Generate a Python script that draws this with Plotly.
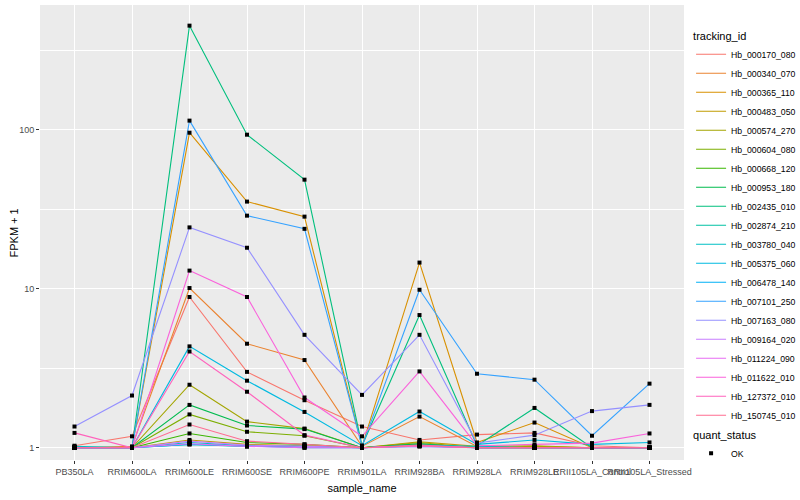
import plotly.graph_objects as go

# ---- data (values are FPKM + 1) ----
samples = ["PB350LA", "RRIM600LA", "RRIM600LE", "RRIM600SE", "RRIM600PE", "RRIM901LA",
           "RRIM928BA", "RRIM928LA", "RRIM928LE", "RRII105LA_Control", "RRII105LA_Stressed"]

tracking_ids = ["Hb_000170_080", "Hb_000340_070", "Hb_000365_110", "Hb_000483_050",
                "Hb_000574_270", "Hb_000604_080", "Hb_000668_120", "Hb_000953_180",
                "Hb_002435_010", "Hb_002874_210", "Hb_003780_040", "Hb_005375_060",
                "Hb_006478_140", "Hb_007101_250", "Hb_007163_080", "Hb_009164_020",
                "Hb_011224_090", "Hb_011622_010", "Hb_127372_010", "Hb_150745_010"]

hb_000170_080 = [1.03, 1.18, 8.87, 3.00, 1.99, 1.36, 1.12, 1.21, 1.24, 1.03, 1.00]
hb_000340_070 = [1.00, 1.02, 10.1, 4.51, 3.56, 1.02, 1.57, 1.02, 1.00, 1.00, 1.00]
hb_000365_110 = [1.00, 1.00, 95.7, 35.3, 28.4, 1.02, 14.6, 1.08, 1.44, 1.00, 1.00]
hb_000483_050 = [1.00, 1.00, 1.12, 1.05, 1.03, 1.00, 1.09, 1.02, 1.03, 1.00, 1.00]
hb_000574_270 = [1.00, 1.00, 2.49, 1.46, 1.32, 1.00, 1.08, 1.00, 1.02, 1.00, 1.00]
hb_000604_080 = [1.00, 1.00, 1.62, 1.26, 1.19, 1.00, 1.06, 1.00, 1.00, 1.00, 1.00]
hb_000668_120 = [1.00, 1.00, 1.23, 1.08, 1.05, 1.00, 1.05, 1.00, 1.00, 1.00, 1.00]
hb_000953_180 = [1.00, 1.00, 1.86, 1.38, 1.31, 1.00, 1.06, 1.00, 1.00, 1.00, 1.00]
hb_002435_010 = [1.00, 1.00, 451.0, 93.0, 48.5, 1.03, 6.83, 1.03, 1.78, 1.00, 1.00]
hb_002874_210 = [1.00, 1.00, 1.05, 1.02, 1.02, 1.00, 1.03, 1.00, 1.00, 1.00, 1.00]
hb_003780_040 = [1.02, 1.00, 1.08, 1.03, 1.02, 1.00, 1.04, 1.02, 1.00, 1.00, 1.00]
hb_005375_060 = [1.00, 1.00, 4.34, 2.64, 1.68, 1.03, 1.69, 1.05, 1.12, 1.05, 1.08]
hb_006478_140 = [1.00, 1.00, 1.05, 1.02, 1.00, 1.00, 1.02, 1.00, 1.00, 1.00, 1.00]
hb_007101_250 = [1.00, 1.00, 114.0, 28.8, 23.8, 1.02, 9.85, 2.92, 2.68, 1.19, 2.53]
hb_007163_080 = [1.36, 2.13, 24.3, 18.1, 5.13, 2.15, 5.13, 1.07, 1.20, 1.70, 1.86]
hb_009164_020 = [1.00, 1.00, 1.10, 1.04, 1.02, 1.00, 1.03, 1.00, 1.00, 1.00, 1.00]
hb_011224_090 = [1.00, 1.00, 1.06, 1.02, 1.00, 1.00, 1.02, 1.00, 1.00, 1.00, 1.00]
hb_011622_010 = [1.00, 1.00, 13.0, 8.87, 2.07, 1.18, 3.02, 1.03, 1.05, 1.07, 1.23]
hb_127372_010 = [1.24, 1.00, 4.03, 2.25, 1.20, 1.00, 1.04, 1.00, 1.00, 1.00, 1.00]
hb_150745_010 = [1.00, 1.00, 1.40, 1.10, 1.05, 1.00, 1.03, 1.00, 1.00, 1.00, 1.00]

series_values = [hb_000170_080, hb_000340_070, hb_000365_110, hb_000483_050,
                 hb_000574_270, hb_000604_080, hb_000668_120, hb_000953_180,
                 hb_002435_010, hb_002874_210, hb_003780_040, hb_005375_060,
                 hb_006478_140, hb_007101_250, hb_007163_080, hb_009164_020,
                 hb_011224_090, hb_011622_010, hb_127372_010, hb_150745_010]

y_tick_values = [1, 10, 100]
y_tick_labels = ["1", "10", "100"]

# ggplot2 default hue palette for 20 levels
colors = ["#F8766D", "#EA8331", "#D89000", "#C09B00", "#A3A500", "#7CAE00", "#39B600",
          "#00BB4E", "#00BF7D", "#00C1A3", "#00BFC4", "#00BAE0", "#00B0F6", "#35A2FF",
          "#9590FF", "#C77CFF", "#E76BF3", "#FA62DB", "#FF62BC", "#FF6C91"]

FONT = "Liberation Sans, Arial, Helvetica, sans-serif"

fig = go.Figure()
for name, vals, col in zip(tracking_ids, series_values, colors):
    fig.add_trace(go.Scatter(
        x=samples, y=vals, mode="lines", name=name,
        line=dict(color=col, width=1.1), legend="legend",
    ))

# points (quant_status = OK)
px_, py_ = [], []
for vals in series_values:
    px_.extend(samples)
    py_.extend(vals)
fig.add_trace(go.Scatter(
    x=px_, y=py_, mode="markers", name="OK",
    marker=dict(color="black", size=4, symbol="square"),
    legend="legend2",
))

fig.update_layout(
    width=800, height=500,
    margin=dict(l=40, r=116, t=5, b=40, autoexpand=False),
    paper_bgcolor="white", plot_bgcolor="#EBEBEB",
    font=dict(family=FONT, size=9, color="black"),
    legend=dict(
        title=dict(text="tracking_id", font=dict(size=11, color="black")),
        x=1.011, xanchor="left", y=0.955, yanchor="top",
        font=dict(size=8.7, color="black"), itemwidth=30,
        tracegroupgap=0, bgcolor="rgba(0,0,0,0)",
    ),
    legend2=dict(
        title=dict(text="quant_status", font=dict(size=11, color="black")),
        x=1.011, xanchor="left", y=0.078, yanchor="top",
        font=dict(size=8.7, color="black"), itemwidth=30,
        bgcolor="rgba(0,0,0,0)",
    ),
    xaxis=dict(
        type="category", categoryorder="array", categoryarray=samples,
        range=[-0.6, 10.6], tickangle=0,
        showgrid=True, gridcolor="white", gridwidth=1.1,
        ticks="outside", ticklen=3, tickcolor="#333333", tickwidth=1,
        tickfont=dict(size=9, color="#4D4D4D"),
        title=dict(text="sample_name", font=dict(size=11, color="black"), standoff=8),
        zeroline=False, showline=False,
    ),
    yaxis=dict(
        type="log", range=[-0.077, 2.784],
        tickvals=y_tick_values, ticktext=y_tick_labels,
        showgrid=True, gridcolor="white", gridwidth=1.1,
        ticks="outside", ticklen=3, tickcolor="#333333", tickwidth=1,
        tickfont=dict(size=9, color="#4D4D4D"),
        minor=dict(tickvals=[10 ** 0.5, 10 ** 1.5, 10 ** 2.5], showgrid=True,
                   gridcolor="white", gridwidth=0.55, ticks=""),
        zeroline=False, showline=False,
    ),
    annotations=[dict(
        text="FPKM + 1", textangle=-90, xref="paper", yref="paper",
        x=-0.0404, y=0.5, xanchor="center", yanchor="middle", showarrow=False,
        font=dict(size=11, color="black"),
    )],
    showlegend=True,
)

fig.write_html("out.html", config={"displayModeBar": False},
               post_script="document.body.style.margin='0';")
